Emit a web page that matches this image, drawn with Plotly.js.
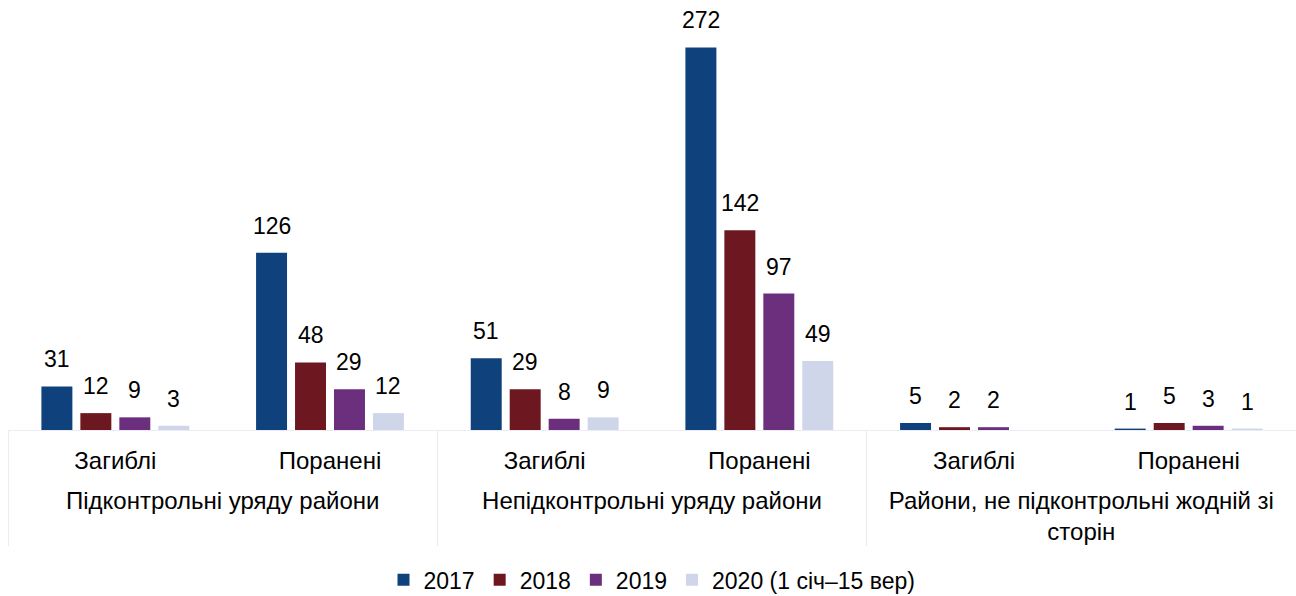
<!DOCTYPE html>
<html><head><meta charset="utf-8">
<script src="https://cdn.plot.ly/plotly-3.0.1.min.js"></script>
<style>body{margin:0;background:#fff}#c{width:1296px;height:596px}</style>
</head><body><div id="c"></div>
<script>
const groups = ["Підконтрольні уряду райони","Підконтрольні уряду райони","Непідконтрольні уряду райони","Непідконтрольні уряду райони","Райони, не підконтрольні жодній зі<br>сторін","Райони, не підконтрольні жодній зі<br>сторін"];
const subcats = ["Загиблі","Поранені","Загиблі","Поранені","Загиблі","Поранені"];
const seriesNames = ["2017","2018","2019","2020 (1 січ–15 вер)"];
const v2017 = [31,126,51,272,5,1];
const v2018 = [12,48,29,142,2,5];
const v2019 = [9,29,8,97,2,3];
const v2020 = [3,12,9,49,null,1];
const colors = ["#0f427c","#6d1820","#6c2f7d","#d0d6ea"];
const vals = [v2017,v2018,v2019,v2020];
const font = "Liberation Sans, Arial, sans-serif";
const FS = 23;
const AFS = 24;
// trailing blank (raised) line only spaces the two label rows apart
const subLabels = subcats.map(s => s + "<br><sup>&nbsp;</sup>");
const traces = vals.map((v,i)=>({
  type:"bar", name:seriesNames[i], x:[groups,subLabels], y:v,
  marker:{color:colors[i]}, hoverinfo:"none"
}));
const slot = 1288/6*(1-0.274)/4;
const annotations = [];
vals.forEach((v,i)=>v.forEach((val,j)=>{
  if(val===null) return;
  annotations.push({xref:"x",yref:"y",x:j,y:val,text:String(val),showarrow:false,
    xanchor:"center",yanchor:"bottom",xshift:(i-1.5)*slot,yshift:12,
    font:{family:font,size:FS,color:"#000"}});
}));
const layout = {
  width:1296,height:596,
  margin:{l:8,r:0,t:8,b:166},
  barmode:"group", bargap:0.274, bargroupgap:0.205,
  paper_bgcolor:"#fff", plot_bgcolor:"#fff",
  font:{family:font,size:FS,color:"#000"},
  xaxis:{type:"multicategory", automargin:false, showline:true, linecolor:"#ebebf5", linewidth:1,
    showdividers:true, dividercolor:"#ebebf5", dividerwidth:1,
    ticks:"outside", ticklen:0, tickcolor:"rgba(0,0,0,0)", ticklabelstandoff:9,
    tickfont:{family:font,size:AFS,color:"#000"}, showgrid:false},
  yaxis:{range:[0,300], visible:false, showgrid:false, zeroline:false, automargin:false},
  annotations:annotations,
  showlegend:true,
  legend:{orientation:"h", x:0.5, xanchor:"center", yref:"container", y:0.027, yanchor:"middle",
    font:{family:font,size:FS,color:"#000"}, itemwidth:30, traceorder:"normal"}
};
Plotly.newPlot("c",traces,layout,{staticPlot:true});
</script></body></html>
